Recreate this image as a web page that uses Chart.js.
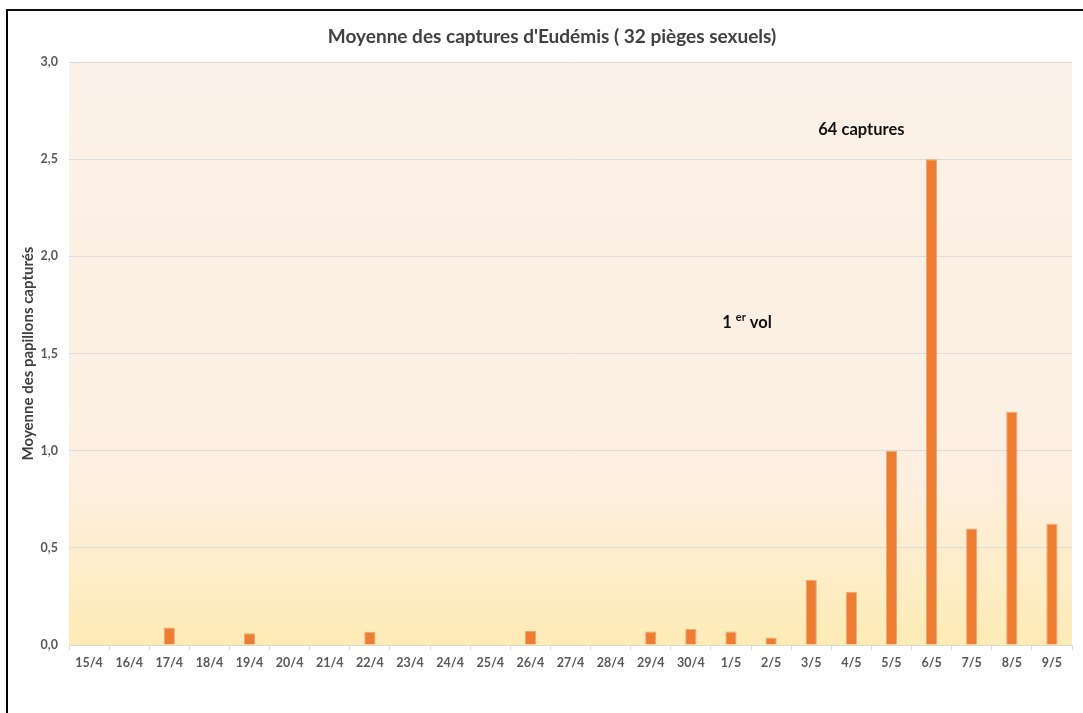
<!DOCTYPE html>
<html>
<head>
<meta charset="utf-8">
<script src="https://cdn.jsdelivr.net/npm/chart.js@4.4.1/dist/chart.umd.min.js"></script>
<style>
  html, body { margin:0; padding:0; background:#fff; }
  #wrap { position:absolute; left:0; top:0; width:1083px; height:713px; }
  #frame { position:absolute; left:6px; top:9px; width:1077px; height:704px;
           border-left:2px solid #000; border-top:2px solid #111; box-sizing:border-box; }
  canvas { position:absolute; left:0; top:0; }
</style>
</head>
<body>
<div id="wrap">
  <div id="frame"></div>
  <canvas id="c" width="1083" height="713"></canvas>
</div>
<script>
const categories = ["15/4","16/4","17/4","18/4","19/4","20/4","21/4","22/4","23/4","24/4","25/4","26/4","27/4","28/4","29/4","30/4","1/5","2/5","3/5","4/5","5/5","6/5","7/5","8/5","9/5"];
const moyenneCaptures = [0,0,0.09,0,0.06,0,0,0.067,0,0,0,0.072,0,0,0.07,0.082,0.07,0.038,0.334,0.273,1.0,2.5,0.6,1.2,0.624];
const yTicks = [0,0.5,1,1.5,2,2.5,3];
const titleText = "Moyenne des captures d'Eudémis ( 32 pièges sexuels)";
const yTitle = "Moyenne des papillons capturés";
const annotations = [
  { text: "64 captures", xIndex: 19.25, y: 2.65 },
  { text: "1", sup: "er", rest: " vol", xIndex: 16.4, y: 1.66 }
];

const FONT = "Lato, 'Open Sans', sans-serif";

const bgPlugin = {
  id: 'bg',
  beforeDraw(chart) {
    const {ctx, chartArea: a} = chart;
    const g = ctx.createLinearGradient(0, a.top, 0, a.bottom);
    g.addColorStop(0, '#FCF1E8');
    g.addColorStop(0.7, '#FCEFE2');
    g.addColorStop(1, '#FEEBB6');
    ctx.save();
    ctx.fillStyle = g;
    ctx.fillRect(a.left, a.top, a.right - a.left, a.bottom - a.top);
    ctx.restore();
  },
  afterDraw(chart) {
    const {ctx, scales} = chart;
    ctx.save();
    ctx.fillStyle = '#404040';
    ctx.font = "bold 19px " + FONT;
    ctx.textAlign = 'center';
    ctx.textBaseline = 'middle';
    ctx.fillText(titleText, 552, 37);
    ctx.fillStyle = '#111';
    const xs = scales.x;
    const ys = scales.y;
    const step = (xs.getPixelForValue(1) - xs.getPixelForValue(0));
    annotations.forEach(an => {
      const px = xs.getPixelForValue(0) + step * an.xIndex;
      const py = ys.getPixelForValue(an.y);
      ctx.textBaseline = 'middle';
      if (!an.sup) {
        ctx.font = "bold 16.5px " + FONT;
        ctx.textAlign = 'center';
        ctx.fillText(an.text, px, py);
      } else {
        ctx.font = "bold 16.5px " + FONT;
        const w1 = ctx.measureText(an.text + " ").width;
        ctx.font = "bold 11px " + FONT;
        const w2 = ctx.measureText(an.sup).width;
        ctx.font = "bold 16.5px " + FONT;
        const w3 = ctx.measureText(an.rest).width;
        let x0 = px - (w1 + w2 + w3) / 2;
        ctx.textAlign = 'left';
        ctx.fillText(an.text + " ", x0, py);
        ctx.font = "bold 11px " + FONT;
        ctx.fillText(an.sup, x0 + w1, py - 5);
        ctx.font = "bold 16.5px " + FONT;
        ctx.fillText(an.rest, x0 + w1 + w2, py);
      }
    });
    ctx.restore();
  }
};

new Chart(document.getElementById('c'), {
  type: 'bar',
  data: {
    labels: categories,
    datasets: [{
      data: moyenneCaptures,
      backgroundColor: '#ED7D31',
      borderColor: '#F3A470',
      borderWidth: 1,
      barPercentage: 0.28,
      categoryPercentage: 1.0
    }]
  },
  plugins: [bgPlugin],
  options: {
    responsive: false,
    animation: false,
    devicePixelRatio: 1,
    layout: { padding: { left: 0, right: 11, top: 62, bottom: 0 } },
    plugins: { legend: { display: false }, title: { display: false }, tooltip: { enabled: false } },
    scales: {
      x: {
        afterFit(s) { s.height = 68; },
        grid: { display: true, drawOnChartArea: false, drawTicks: true, tickLength: 5, offset: true, color: '#D9D9D9' },
        border: { display: true, color: '#D9D9D9' },
        ticks: { color: '#595959', font: { family: FONT, size: 12.5, weight: 'bold' }, padding: 5, maxRotation: 0, autoSkip: false }
      },
      y: {
        min: 0, max: 3,
        afterFit(s) { s.width = 69; },
        afterBuildTicks(s) { s.ticks = yTicks.map(v => ({ value: v })); },
        grid: { color: '#DCDCDC', drawTicks: false },
        border: { display: false },
        ticks: {
          color: '#595959', font: { family: FONT, size: 12.5, weight: 'bold' }, padding: 11,
          callback: v => Number(v).toFixed(1).replace('.', ',')
        },
        title: {
          display: true, text: yTitle, color: '#404040',
          font: { family: FONT, size: 15, weight: 'bold' }, padding: { top: 19, bottom: 0 }
        }
      }
    }
  }
});
</script>
</body>
</html>
